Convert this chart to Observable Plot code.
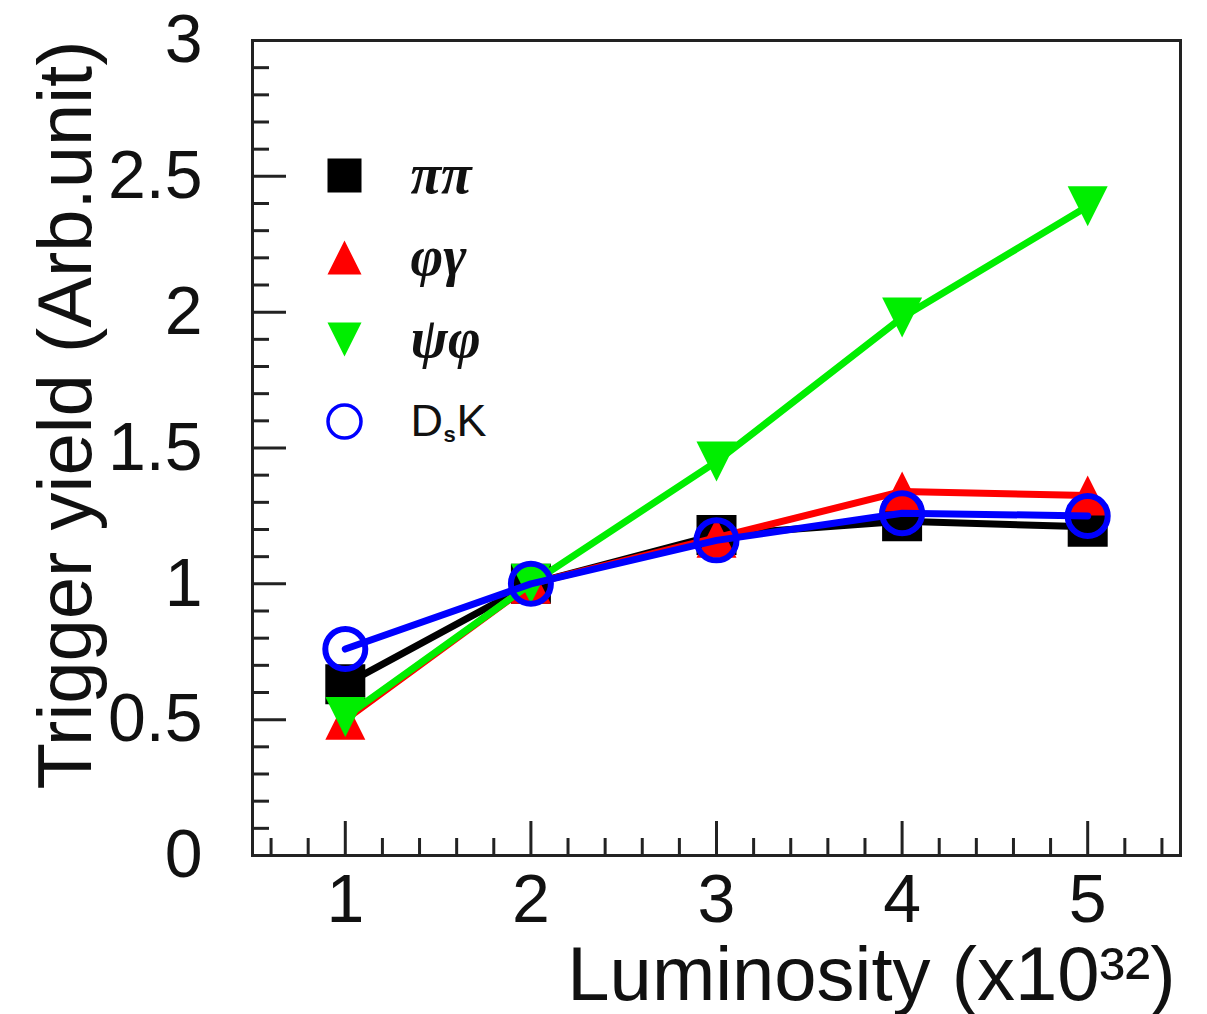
<!DOCTYPE html>
<html><head><meta charset="utf-8">
<script src="https://cdn.jsdelivr.net/npm/d3@7"></script>
<script src="https://cdn.jsdelivr.net/npm/@observablehq/plot@0.6"></script>
<style>body{margin:0;background:#fff}</style>
</head><body><div id="chart"></div>
<script>
// ---- data ----
const luminosity = [1, 2, 3, 4, 5];
const pipi      = [0.63, 1.00, 1.18, 1.23, 1.21];
const phigamma  = [0.50, 1.00, 1.17, 1.34, 1.325];
const psiphi    = [0.51, 1.00, 1.45, 1.98, 2.39];
const dsk       = [0.76, 1.00, 1.16, 1.26, 1.25];
const seriesNames = ["ππ", "φγ", "ψφ", "DsK"];
const xTickLabels = [1, 2, 3, 4, 5];
const yTickLabels = [0, 0.5, 1, 1.5, 2, 2.5, 3];
const xTitle = "Luminosity (x10³²)";
const yTitle = "Trigger yield (Arb.unit)";

// ---- symbols ----
const rad = s => Math.sqrt(s / Math.PI);
const square = {draw(c, s) { const r = rad(s); c.moveTo(-r, -r); c.lineTo(r, -r); c.lineTo(r, r); c.lineTo(-r, r); c.closePath(); }};
const triUp = {draw(c, s) { const r = rad(s); c.moveTo(0, -r); c.lineTo(r, r); c.lineTo(-r, r); c.closePath(); }};
const triDown = {draw(c, s) { const r = rad(s); c.moveTo(0, r); c.lineTo(r, -r); c.lineTo(-r, -r); c.closePath(); }};

const series = [
  {name: seriesNames[0], values: pipi, color: "#000000", symbol: square, filled: true},
  {name: seriesNames[1], values: phigamma, color: "#ff0000", symbol: triUp, filled: true},
  {name: seriesNames[2], values: psiphi, color: "#00ee00", symbol: triDown, filled: true},
  {name: seriesNames[3], values: dsk, color: "#0000ff", symbol: "circle", filled: false}
];

const xMinor = d3.range(6, 55, 2).map(v => v / 10).filter(v => !xTickLabels.includes(v));
const yMinor = d3.range(1, 30).map(v => v / 10).filter(v => !yTickLabels.includes(v));

const sans = "Liberation Sans, Arial, Helvetica, sans-serif";
const serif = "Liberation Serif, Times New Roman, serif";
const axisColor = "#222";

const marks = [];

// ticks (inside frame)
marks.push(Plot.ruleX(xTickLabels, {x: d => d, y1: 0, y2: 0, insetBottom: 34, stroke: axisColor, strokeWidth: 3}));
marks.push(Plot.ruleX(xMinor, {x: d => d, y1: 0, y2: 0, insetBottom: 17, stroke: axisColor, strokeWidth: 3}));
marks.push(Plot.ruleY(yTickLabels, {y: d => d, x1: 0.5, x2: 0.5, insetLeft: 34, stroke: axisColor, strokeWidth: 3}));
marks.push(Plot.ruleY(yMinor, {y: d => d, x1: 0.5, x2: 0.5, insetLeft: 17, stroke: axisColor, strokeWidth: 3}));

// data
series.forEach(s => {
  const rows = s.values.map((v, i) => ({x: luminosity[i], y: v}));
  marks.push(Plot.line(rows, {x: "x", y: "y", stroke: s.color, strokeWidth: 7}));
  if (s.filled) {
    marks.push(Plot.dot(rows, {x: "x", y: "y", symbol: s.symbol, r: 20, fill: s.color, stroke: "none"}));
  } else {
    marks.push(Plot.dot(rows, {x: "x", y: "y", symbol: s.symbol, r: 20, fill: "none", stroke: s.color, strokeWidth: 6}));
  }
});

// legend
series.forEach((s, i) => {
  const dy = 135 + i * 82;
  if (s.filled) {
    marks.push(Plot.dot([s.name], {frameAnchor: "top-left", dx: 92, dy, symbol: s.symbol, r: 17, fill: s.color, stroke: "none"}));
  } else {
    marks.push(Plot.dot([s.name], {frameAnchor: "top-left", dx: 92, dy, symbol: s.symbol, r: 16.5, fill: "none", stroke: s.color, strokeWidth: 3.5}));
  }
  if (i < 3) {
    marks.push(Plot.text([s.name], {text: d => d, frameAnchor: "top-left", dx: 158, dy, textAnchor: "start", lineAnchor: "middle", fontSize: 56, fontStyle: "italic", fontWeight: "bold", fontFamily: serif, fill: "#111"}));
  } else {
    marks.push(Plot.text(["D"], {text: d => d, frameAnchor: "top-left", dx: 158, dy, textAnchor: "start", lineAnchor: "middle", fontSize: 45, fontFamily: sans, fill: "#111"}));
    marks.push(Plot.text(["s"], {text: d => d, frameAnchor: "top-left", dx: 191, dy: dy + 13, textAnchor: "start", lineAnchor: "middle", fontSize: 22, fontWeight: "bold", fontFamily: sans, fill: "#111"}));
    marks.push(Plot.text(["K"], {text: d => d, frameAnchor: "top-left", dx: 204, dy, textAnchor: "start", lineAnchor: "middle", fontSize: 45, fontFamily: sans, fill: "#111"}));
  }
});

// axes labels
marks.push(Plot.axisX(xTickLabels, {tickSize: 0, tickPadding: 18, fontSize: 68, fontFamily: sans, fill: "#111", label: null, tickFormat: d => String(d)}));
marks.push(Plot.axisY(yTickLabels, {tickSize: 0, tickPadding: 50, fontSize: 68, fontFamily: sans, fill: "#111", label: null, tickFormat: d => String(d)}));

// titles
marks.push(Plot.text([yTitle], {text: d => d, frameAnchor: "top-left", rotate: -90, textAnchor: "end", lineAnchor: "middle", dx: -186, dy: 0, fontSize: 76, fontFamily: sans, fill: "#111"}));
marks.push(Plot.text([xTitle], {text: d => d, frameAnchor: "bottom-right", textAnchor: "end", lineAnchor: "middle", dx: -5, dy: 120, fontSize: 76, fontFamily: sans, fill: "#111"}));

marks.push(Plot.frame({stroke: axisColor, strokeWidth: 3}));

const chart = Plot.plot({
  width: 1207,
  height: 1014,
  marginLeft: 252,
  marginRight: 27,
  marginTop: 40,
  marginBottom: 159,
  x: {domain: [0.5, 5.5], axis: null},
  y: {domain: [0, 3], axis: null},
  style: {background: "#fff", overflow: "visible"},
  marks
});
document.getElementById("chart").appendChild(chart);
</script>
</body></html>
